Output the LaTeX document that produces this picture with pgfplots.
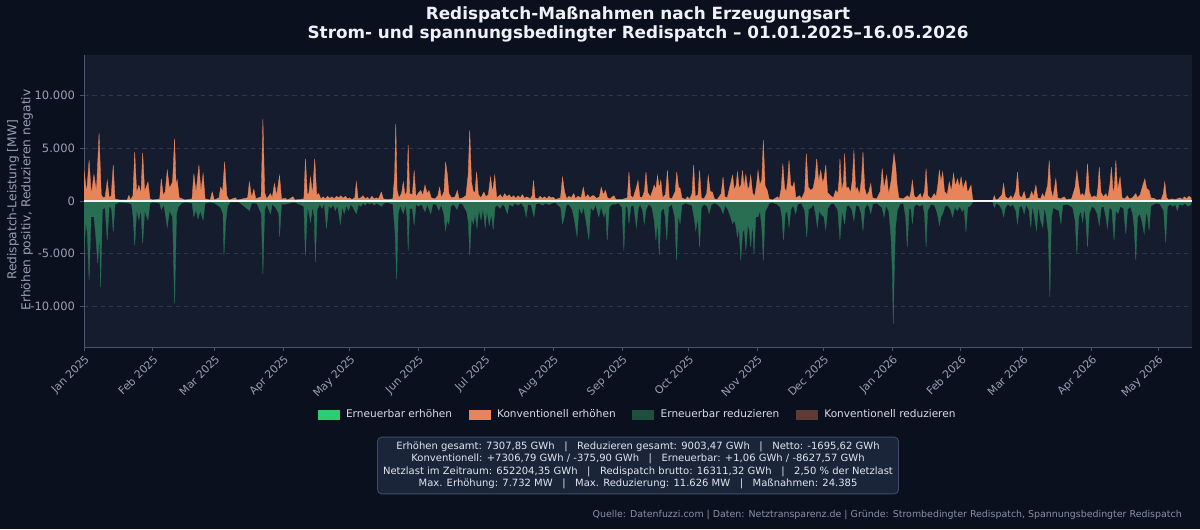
\documentclass[border=0pt]{standalone}
\usepackage{fontspec}
\setmainfont{DejaVu Sans}
\usepackage{pgfplots}
\pgfplotsset{compat=1.18}

\definecolor{figbg}{RGB}{11,16,31}
\definecolor{axbg}{RGB}{21,28,46}
\definecolor{titlec}{RGB}{238,241,246}
\definecolor{tickc}{RGB}{150,160,182}
\definecolor{spinec}{RGB}{72,82,104}
\definecolor{gridc}{RGB}{44,54,76}
\definecolor{konvup}{RGB}{232,132,90}
\definecolor{eereduce}{RGB}{40,110,82}
\definecolor{eeup}{RGB}{46,204,113}
\definecolor{eeredleg}{RGB}{30,78,60}
\definecolor{konvred}{RGB}{96,58,52}
\definecolor{legtext}{RGB}{215,220,230}
\definecolor{boxfill}{RGB}{27,37,58}
\definecolor{boxborder}{RGB}{62,76,102}
\definecolor{boxtext}{RGB}{225,230,238}
\definecolor{footc}{RGB}{135,146,168}

\begin{document}
\begin{tikzpicture}
% canvas: 1200 x 529 units of 0.72pt, origin bottom left
\begin{scope}[x=0.72pt,y=0.72pt]
\fill[figbg] (0,0) rectangle (1200,529);
\useasboundingbox (0,0) rectangle (1200,529);

\node[font=\bfseries\fontsize{12.1}{14}\selectfont, text=titlec, align=center]
  at (638,504.5) {Redispatch-Maßnahmen nach Erzeugungsart\\Strom- und spannungsbedingter Redispatch – 01.01.2025–16.05.2026};

\node[rotate=90, align=center, text=tickc, font=\fontsize{8.8}{10.2}\selectfont]
  at (20,329) {Redispatch-Leistung [MW]\\Erhöhen positiv, Reduzieren negativ};
\end{scope}

\begin{axis}[
  at={(60.48pt,131.04pt)}, anchor=south west,
  width=797.76pt, height=210.24pt, scale only axis,
  xmin=0, xmax=500.4, ymin=-13840, ymax=13840,
  axis background/.style={fill=axbg},
  separate axis lines,
  axis x line*=bottom, axis y line*=left,
  axis line style={draw=spinec, line width=0.6pt},
  tick align=outside, major tick length=3pt,
  tick style={draw=spinec, line width=0.6pt},
  xtick={0,31,59,90,120,151,181,212,243,273,304,334,365,396,424,455,485},
  xticklabels={Jan 2025,Feb 2025,Mar 2025,Apr 2025,May 2025,Jun 2025,Jul 2025,Aug 2025,Sep 2025,Oct 2025,Nov 2025,Dec 2025,Jan 2026,Feb 2026,Mar 2026,Apr 2026,May 2026},
  xticklabel style={rotate=45, anchor=north east, text=tickc, font=\fontsize{7.8}{9}\selectfont, inner sep=1.5pt},
  scaled y ticks=false,
  ytick={-10000,-5000,0,5000,10000},
  yticklabels={-10.000,-5.000,0,5.000,10.000},
  yticklabel style={text=tickc, font=\fontsize{8.3}{10}\selectfont},
  ymajorgrids, grid style={dashed, draw=gridc, line width=0.5pt},
  legend style={at={(0.5,-0.232)}, anchor=center, legend columns=4, draw=none, fill=none,
    text=legtext, font=\fontsize{7.6}{10}\selectfont,
    /tikz/every odd column/.append style={column sep=3pt},
    /tikz/every even column/.append style={column sep=10pt}},
  legend cell align=left,
]
\addlegendimage{legend image code/.code={\fill[eeup] (0pt,-3.2pt) rectangle (15pt,3.2pt);}}
\addlegendentry{Erneuerbar erhöhen}
\addlegendimage{legend image code/.code={\fill[konvup] (0pt,-3.2pt) rectangle (15pt,3.2pt);}}
\addlegendentry{Konventionell erhöhen}
\addlegendimage{legend image code/.code={\fill[eeredleg] (0pt,-3.2pt) rectangle (15pt,3.2pt);}}
\addlegendentry{Erneuerbar reduzieren}
\addlegendimage{legend image code/.code={\fill[konvred] (0pt,-3.2pt) rectangle (15pt,3.2pt);}}
\addlegendentry{Konventionell reduzieren}

% Erneuerbar reduzieren (negative)
\addplot[forget plot, fill=eereduce, draw=eereduce, line width=0.25pt] coordinates {
(0,-4700)(0.8,-2000)(1.5,-3000)(2.3,-7500)(3.2,-1500)(4.5,-1500)(5.4,-3500)(6.2,-5900)(7.0,-3000)(7.5,-8150)(8.3,-800)(9.5,-600)(10.5,-3700)(11.4,-400)(12.5,-800)(13.2,-2900)(14.0,-300)(16,-100)(20.3,-200)(21.5,-300)(22.2,-1500)(22.9,-4200)(23.8,-800)(24.8,-1800)(25.7,-700)(26.5,-4000)(27.4,-900)(28.9,-1800)(29.8,-200)(31,-100)(34.2,-200)(34.9,-800)(36,-300)(36.8,-1300)(37.6,-2500)(38.6,-900)(40.0,-1500)(40.9,-9700)(41.8,-1200)(42.5,-600)(44,-200)(46,-100)(48.8,-200)(49.6,-1500)(50.6,-800)(51.5,-1700)(52.5,-900)(53.8,-1800)(54.7,-200)(57,-100)(59,-200)(61.7,-600)(62.8,-1200)(63.2,-5150)(64.0,-2000)(64.8,-500)(66,-100)(70,-100)(74.7,-900)(75.7,-200)(78,-200)(80.1,-1200)(80.8,-6900)(81.6,-800)(82.5,-300)(84.2,-1200)(85.0,-300)(86.5,-600)(88.0,-1200)(88.3,-3400)(89.2,-300)(91,-300)(93,-200)(95,-100)(99.3,-500)(100.0,-5150)(100.9,-500)(101.6,-1100)(102.3,-2000)(103.2,-500)(104.0,-1500)(104.5,-5800)(105.3,-800)(106.5,-300)(107.5,-700)(108.5,-200)(109.5,-2600)(110.5,-400)(111.5,-700)(112.5,-300)(113.5,-900)(114.5,-400)(115.8,-2200)(116.6,-500)(117.5,-1200)(118.5,-400)(119.5,-900)(120.5,-300)(121.5,-600)(123,-1200)(124,-300)
(125,-500)(126,-200)(127,-400)(128,-150)(129,-300)(130,-150)(131,-400)(132,-200)(133,-300)(134.3,-500)(135.5,-200)(137,-150)(139.5,-300)(140.5,-3000)(141.2,-7400)(141.9,-1200)(142.8,-400)(144.2,-1200)(145.2,-300)(145.9,-1500)(146.4,-4700)(147.1,-700)(148.3,-700)(149.1,-2300)(149.9,-300)(151,-500)(152.5,-300)(154.0,-1000)(155,-300)(156.6,-1200)(157.5,-300)(159,-300)(160.3,-900)(161.3,-300)(162.5,-1200)(163.3,-2800)(164.0,-1800)(164.8,-2200)(165.6,-500)(167,-300)(168.5,-800)(169.5,-200)(171,-300)(172.8,-1000)(173.6,-2000)(174.2,-5150)(175,-1500)(175.8,-2200)(176.6,-1200)(177.5,-2600)(178.3,-800)(179.3,-1800)(180.2,-700)(181.2,-2500)(182.0,-900)(183.0,-2300)(184.0,-1200)(184.8,-2700)(185.6,-600)(186.5,-400)(188,-700)(189,-300)(190,-500)(191.2,-1200)(192,-300)(193.5,-500)(194.5,-200)(196,-400)(197.5,-200)(198.8,-600)(199.7,-1500)(200.5,-300)(202,-400)(203.2,-1500)(204,-300)(205.5,-200)(207,-400)(208.5,-200)(210,-350)(211.5,-200)(213,-150)(215.3,-600)(216.1,-2150)(216.9,-1500)(217.8,-400)(219,-300)(220.5,-800)(221.5,-1800)(222.7,-3400)(223.5,-600)(224.8,-1200)(225.6,-500)(226.8,-2000)(228.0,-3600)(228.8,-600)(230,-900)(231,-300)(232.5,-1500)(233.5,-500)(234.8,-1500)(235.6,-900)(236.3,-3700)(237.2,-600)(238.5,-300)(240,-300)(241.5,-200)(243.0,-600)(243.8,-4700)(244.6,-400)(245.5,-600)(246.1,-2150)(247,-500)(248.2,-400)(249.5,-2500)
(250.3,-700)(251.2,-300)(252.3,-900)(253.0,-2150)(253.8,-800)(255,-300)(256.5,-600)(257.5,-1800)(258.3,-3700)(259.0,-1800)(259.8,-5150)(260.6,-1000)(261.8,-600)(262.5,-1500)(263.2,-3700)(264.0,-600)(265.5,-300)(266.8,-1500)(267.6,-5600)(268.4,-1200)(269.2,-2150)(270.0,-400)(271.5,-200)(273,-300)(274.5,-400)(275.5,-1500)(276.3,-2800)(277.2,-1500)(278.0,-4360)(278.8,-600)(280,-300)(281.5,-500)(282.3,-1200)(283.2,-400)(284.5,-200)(286,-300)(287.5,-600)(288.6,-1200)(289.5,-400)(290.8,-800)(292.0,-1500)(292.9,-2150)(293.8,-1800)(294.5,-2500)(295.1,-3400)(295.8,-2500)(296.6,-5600)(297.4,-3000)(298.2,-2600)(298.9,-4700)(299.8,-2200)(300.5,-2800)(301.1,-4360)(301.9,-2000)(302.6,-5000)(303.4,-1500)(304.4,-1500)(305.3,-900)(306.1,-2500)(306.8,-5600)(307.6,-1000)(308.6,-600)(309.5,-200)(311,-150)(313,-300)(314.5,-600)(315.2,-1500)(315.9,-3700)(316.7,-1200)(317.6,-900)(318.4,-2500)(319.2,-800)(320.3,-400)(321.4,-1200)(322.3,-300)(324,-200)(325.5,-900)(326.4,-3400)(327.2,-800)(328.5,-600)(329.5,-300)(330.4,-1200)(331.2,-2500)(332,-900)(333,-1300)(334.2,-1500)(335.0,-2700)(335.9,-700)(337.2,-300)(338.5,-200)(340.4,-800)(341.4,-3700)(342.3,-900)(343.5,-2150)(344.4,-500)(345.5,-400)(346.8,-800)(347.7,-1850)(348.6,-400)(350,-500)(351.0,-1200)(351.8,-2800)(352.6,-700)(353.6,-300)(354.5,-500)(355.3,-1200)(356.2,-300)(358,-200)(360.4,-600)(361.3,-1500)(362.2,-400)(363.5,-1000)(364.5,-3500)(365.1,-7000)(365.5,-11626)(366.0,-6000)(366.5,-2500)(367.3,-900)(368.5,-300)(370,-200)(371.1,-1500)(371.8,-4360)(372.6,-800)(373.4,-600)(374.1,-2150)(374.9,-500)
(376,-300)(377.5,-500)(378.8,-300)(379.6,-1200)(380.3,-4360)(381.0,-900)(382.5,-300)(384.0,-400)(385.0,-900)(385.8,-1600)(386.3,-2300)(387.0,-1500)(387.8,-1200)(388.8,-500)(390,-400)(391.3,-800)(392.3,-1500)(393.2,-600)(394.5,-900)(395.5,-500)(396.6,-1000)(397.5,-700)(398.3,-2900)(399.1,-600)(400,-500)(400.8,-300)(401.5,0)(410.3,0)(411.1,-600)(412,-200)(413.5,-400)(414.6,-800)(415.3,-1500)(416.1,-600)(417.3,-300)(418.5,-500)(419.5,-300)(420.8,-900)(421.6,-2150)(422.4,-600)(423.5,-400)(424.6,-1200)(425.5,-300)(426.8,-900)(427.6,-2500)(428.3,-400)(429.3,-1500)(430.2,-2800)(431,-400)(432,-1800)(433.0,-2500)(433.8,-500)(434.6,-1500)(435.5,-3000)(436.2,-9100)(436.9,-1500)(437.8,-600)(439,-800)(440.3,-900)(441.2,-2150)(442,-400)(443.5,-300)(445,-400)(446.5,-600)(447.6,-1800)(448.4,-5000)(449.2,-1500)(450.2,-900)(451.0,-2000)(451.8,-600)(452.5,-1800)(453.2,-4360)(454.0,-1200)(455.2,-500)(456.5,-700)(457.6,-1200)(458.5,-2300)(459.4,-600)(460.5,-500)(461.5,-1500)(462.2,-2600)(463.1,-600)(464.2,-800)(465.2,-3700)(466.0,-900)(467,-1200)(468,-500)(469.5,-700)(470.5,-3100)(471.3,-800)(472.5,-500)(473.6,-1200)(474.3,-2500)(475.0,-5600)(475.8,-1500)(476.8,-1200)(477.9,-2000)(478.8,-3100)(479.7,-1000)(480.4,-1500)(481.0,-2800)(481.8,-500)(483,-300)(484.5,-200)(486,-300)(487.6,-900)(488.5,-3900)(489.3,-500)(490.5,-300)(491.8,-500)(492.8,-300)(493.8,-900)(494.6,-300)(496,-400)(497.2,-200)(498.5,-500)(500,-300)
} \closedcycle;

% Konventionell erhoehen (positive)
\addplot[forget plot, fill=konvup, draw=konvup, line width=0.25pt] coordinates {
(0,2900)(1.2,800)(2.3,3850)(3.3,600)(4.5,2500)(5.6,900)(6.8,6400)(7.8,600)(8.6,300)(9.6,400)(10.5,1950)(11.4,300)(12.3,500)(13.2,3400)(14.0,200)(16,100)(19.5,100)(20.3,540)(21,100)(22.1,500)(22.9,4650)(23.8,800)(24.8,1500)(25.7,700)(26.5,4550)(27.4,900)(28.9,1800)(29.8,200)(31,100)(34.2,200)(34.9,2100)(35.8,500)(36.7,900)(37.6,2900)(38.6,1200)(40.0,1800)(40.9,5900)(41.6,1500)(42.1,2000)(43,300)(44.5,200)(45.5,100)(48.8,200)(49.6,2600)(50.6,800)(51.9,3400)(52.8,900)(53.8,2600)(54.7,200)(57,100)(57.9,850)(58.8,100)(61.0,300)(61.7,1300)(62.6,900)(63.5,3700)(64.5,500)(65.5,100)(68.4,300)(69.2,100)(73.9,300)(74.7,1800)(75.7,300)(76.7,1100)(77.6,200)(80,400)(80.8,7732)(81.6,800)(82.5,200)(84.2,700)(85.0,300)(86.0,1650)(87,500)(88.3,2430)(89.2,200)(91,250)(92,100)(94.4,400)(95.2,100)(99.3,200)(100.0,4000)(100.9,500)(101.6,800)(102.3,2270)(103.2,600)(104.2,4000)(105.1,600)(106,700)(107,200)(108,400)(109,200)(110,450)(111,250)(112,400)(113,200)(114,450)(115,300)(116,500)(117,250)(118,450)(119,200)(120,300)(121,150)(122.3,300)(123,1800)(123.8,200)
(125,300)(126,500)(127,200)(128,350)(129,150)(130,450)(131,200)(132,300)(133,200)(134.3,850)(135.2,200)(137,150)(139.5,200)(140.3,2500)(140.8,7300)(141.4,1000)(142.2,300)(143.4,700)(144.2,1800)(145,500)(145.8,900)(146.4,5300)(147.1,700)(148.3,600)(149.1,2900)(149.9,400)(150.8,700)(152.1,1000)(153.0,500)(154.0,1500)(155,700)(155.8,1000)(156.8,300)(158.5,200)(159.8,500)(160.6,1300)(161.4,300)(162.6,900)(163.3,3700)(164.1,2500)(164.8,700)(166,300)(167.6,400)(168.6,1000)(169.4,200)(171,300)(172.5,500)(173.5,2500)(174.2,6700)(175,1800)(175.8,900)(176.6,800)(177.3,2750)(178.1,600)(179.3,300)(180.6,850)(181.5,400)(182.6,600)(183.6,2270)(184.5,800)(185.5,2430)(186.4,300)(188,600)(189,300)(190,700)(191,400)(192,600)(193,300)(194,500)(195,250)(196,500)(197,300)(198,600)(199,250)(200,400)(201.5,200)(202.4,500)(203,1950)(203.7,300)(205,200)(206,450)(207,250)(208,400)(209,200)(210,450)(211,300)(212,350)(213,150)(215.2,300)(216.1,2270)(217,900)(218,200)(219,450)(220,300)(221.2,700)(222,200)(223,450)(224.5,300)(225.5,1300)(226.4,300)(227.5,600)(228.5,300)(229.5,500)(230.3,500)(231.5,250)(232.8,400)(233.6,1300)(234.5,600)(235.5,1000)(236.4,300)(237.5,200)(239.3,500)(240.2,150)(243,150)(245.4,300)(246.1,2750)(246.9,500)(248,300)(249.5,1300)
(250.2,1950)(251,400)(252,300)(253.1,900)(253.8,2750)(254.6,800)(255.8,400)(256.8,1000)(257.5,1500)(258.3,1100)(259.0,2430)(259.8,1200)(260.5,1950)(261.3,300)(262.6,600)(263.5,2900)(264.3,300)(265.5,200)(267,900)(267.7,2750)(268.5,1300)(269.2,1200)(270,300)(271.5,150)(272.6,400)(273.5,150)(274.6,700)(275.3,3400)(276.1,400)(277.3,600)(278.0,2900)(278.8,300)(280,200)(281.2,700)(281.9,2430)(282.8,900)(283.8,850)(284.7,200)(286,150)(287.8,700)(288.6,2270)(289.4,400)(290.5,300)(291.5,1200)(292.2,1800)(292.9,2430)(293.7,1000)(294.5,1500)(295.1,2750)(295.9,1200)(296.7,1500)(297.4,2900)(298.1,1300)(298.9,2500)(299.8,1100)(300.5,1400)(301.1,2430)(301.9,800)(302.8,400)(303.7,1500)(304.4,2900)(305.2,1500)(306.1,2000)(306.8,5750)(307.6,1400)(308.6,1000)(309.4,200)(311,100)(313.2,400)(314,200)(314.9,1200)(315.6,3540)(316.4,1200)(317.2,900)(317.8,2000)(318.4,3850)(319.2,1500)(320.0,1300)(320.7,1800)(321.5,300)(323.2,500)(324,200)(325.5,900)(326.2,4490)(327.1,1300)(328.2,1000)(329.3,1200)(330.2,2200)(330.9,4000)(331.8,1800)(332.7,2900)(333.6,1700)(334.3,2200)(335.0,3400)(335.8,800)(337.2,500)(338.4,300)(339.5,1000)(340.4,700)(341.0,2000)(341.4,4000)(342.2,1000)(343,1800)(343.5,4490)(344.3,1200)(345.2,1300)(346.2,800)(347.0,2000)(347.7,4800)(348.5,1000)(349.2,1300)(350.2,600)(351.1,2000)(351.8,4650)(352.6,1200)(353.5,500)(354.5,900)(355.3,1650)(356.1,300)(358,200)(359.6,900)(360.5,3070)(361.3,1200)(362.5,2430)(363.4,600)(364.6,2000)(365.3,3500)(365.8,4490)(366.6,3200)(367.2,1500)(368,300)(370,200)(371.8,500)(372.8,300)(373.5,900)(374.1,1950)(374.9,500)
(375.6,300)(376.5,400)(377.7,700)(378.5,200)(379.6,900)(380.3,3070)(381.1,500)(382.5,200)(384.0,700)(384.8,400)(385.6,1500)(386.3,2900)(387.0,1800)(387.8,2750)(388.6,900)(389.8,600)(390.8,1800)(391.7,900)(392.7,2600)(393.5,1400)(394.5,2100)(395.3,1300)(396.1,2270)(397.0,1100)(397.6,1600)(398.3,1950)(399.0,800)(399.8,1100)(400.6,1500)(401.3,200)(401.8,0)(410.3,0)(411.1,500)(411.8,100)(413,200)(414.6,600)(415.3,1650)(416.1,400)(417.5,200)(418.6,500)(419.5,200)(420.8,900)(421.6,2750)(422.4,500)(423.5,300)(424.6,900)(425.4,200)(427,300)(428,900)(428.8,400)(429.9,1500)(430.7,300)(432,200)(432.9,700)(433.7,300)(435.2,1500)(435.9,3850)(436.7,1000)(437.6,300)(438.9,2100)(439.7,300)(441,200)(442.7,400)(443.6,150)(446,200)(447.6,1300)(448.4,2900)(449.2,1500)(450.0,500)(450.9,700)(451.8,400)(452.5,1200)(453.2,3540)(454.0,900)(455,300)(456.2,500)(457.3,300)(457.9,1200)(458.5,3200)(459.3,800)(460.4,400)(461.5,700)(462.4,300)(463.3,1500)(464.0,3200)(464.8,600)(465.4,1500)(466.0,3850)(466.8,1000)(467.9,2270)(468.8,300)(470,200)(471.2,500)(472,200)(473.5,300)(475.0,700)(475.8,300)(477,600)(478.2,1500)(479.1,2100)(479.9,1200)(481.0,1000)(481.8,300)(483.3,250)(484.5,100)(486.5,150)(487.4,700)(488.1,1800)(488.9,300)(490,100)(491,200)(493,150)(495,300)(496,150)(497,400)(498,200)(499,450)(500,300)
} \closedcycle;

% zero line
\addplot[forget plot, draw=white!92!gray, line width=0.9pt] coordinates {(0,0)(500.4,0)};
\end{axis}

\begin{scope}[x=0.72pt,y=0.72pt]
\node[draw=boxborder, fill=boxfill, rounded corners=3pt, align=center, text=boxtext,
  font=\fontsize{7.2}{9}\selectfont, minimum width=373pt, minimum height=39.6pt,
  inner xsep=4pt, line width=0.6pt]
  at (638,63.5) {Erhöhen gesamt: 7307,85 GWh \ \ | \ \ Reduzieren gesamt: 9003,47 GWh \ \ | \ \ Netto: -1695,62 GWh\\
Konventionell: +7306,79 GWh / -375,90 GWh \ \ | \ \ Erneuerbar: +1,06 GWh / -8627,57 GWh\\
Netzlast im Zeitraum: 652204,35 GWh \ \ | \ \ Redispatch brutto: 16311,32 GWh \ \ | \ \ 2,50 \% der Netzlast\\
Max. Erhöhung: 7.732 MW \ \ | \ \ Max. Reduzierung: 11.626 MW \ \ | \ \ Maßnahmen: 24.385};

\node[anchor=east, inner sep=0pt, text=footc, font=\fontsize{6.8}{8}\selectfont] at (1182,14)
  {Quelle: Datenfuzzi.com | Daten: Netztransparenz.de | Gründe: Strombedingter Redispatch, Spannungsbedingter Redispatch};
\end{scope}
\end{tikzpicture}
\end{document}
